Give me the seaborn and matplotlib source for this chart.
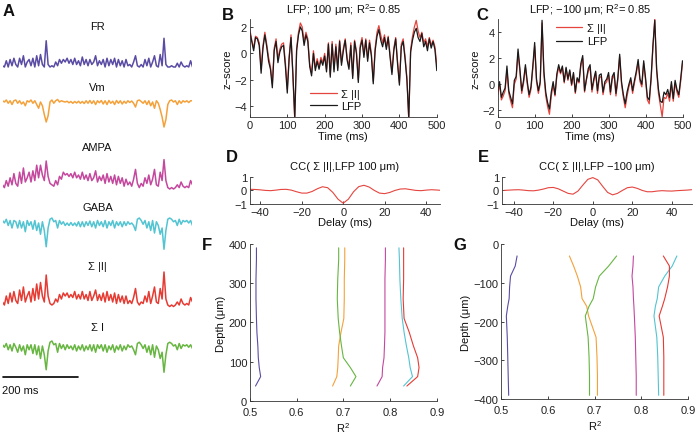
import numpy as np
import seaborn as sns
import matplotlib.pyplot as plt

# ---- panel A traces (5 ms sampling, 0-500 ms) ----
t_ms = np.arange(0, 501, 5)

fr = [0.05, 0.0, 0.25, 0.0, 0.3, 0.05, 0.35, 0.1, 0.0, 0.35,
      0.1, 0.45, 0.0, 0.2, 0.3, 0.05, 0.35, 0.0, 0.45, 0.05,
      0.5, 0.1, 0.0, 1.05, 0.1, 0.0, 0.05, 0.0, 0.2, 0.05,
      0.3, 0.15, 0.3, 0.2, 0.35, 0.15, 0.3, 0.1, 0.35, 0.1,
      0.25, 0.05, 0.4, 0.1, 0.3, 0.05, 0.3, 0.1, 0.2, 0.45,
      0.05, 0.25, 0.1, 0.3, 0.0, 0.35, 0.05, 0.3, 0.1, 0.35,
      0.0, 0.3, 0.05, 0.25, 0.0, 0.3, 0.05, 0.1, 0.0, 0.2,
      0.45, 0.05, 0.0, 0.1, 0.0, 0.3, 0.05, 0.35, 0.0, 0.2,
      0.45, 0.05, 0.0, 0.5, 0.05, 1.15, 0.1, 0.0, 0.0, 0.05,
      0.0, 0.0, 0.15, 0.0, 0.2, 0.05, 0.0, 0.05, 0.0, 0.25,
      0.0]
vm = [0.05, 0.0, 0.08, -0.05, 0.05, -0.1, 0.05, 0.08, -0.05, 0.05,
      -0.08, 0.0, -0.15, 0.05, 0.0, 0.08, -0.05, 0.05, -0.1, -0.25,
      0.0, -0.15, -0.5, -0.8, -0.55, 0.0, 0.08, -0.05, 0.05, 0.1,
      0.0, 0.05, 0.02, 0.0, 0.03, -0.03, 0.02, -0.05, 0.02, -0.04,
      0.03, -0.05, 0.02, -0.06, 0.05, -0.05, 0.06, -0.06, 0.05, -0.1,
      0.05, -0.03, 0.06, -0.08, 0.05, -0.1, 0.06, -0.05, 0.03, -0.1,
      0.06, -0.05, 0.05, -0.08, 0.03, -0.05, 0.05, -0.02, 0.04, -0.05,
      -0.2, 0.05, 0.08, 0.02, -0.05, 0.05, -0.1, 0.05, -0.15, 0.0,
      -0.25, 0.05, -0.05, -0.3, -0.6, -1.0, -0.7, -0.1, 0.05, 0.08,
      0.0, 0.05, -0.1, 0.05, -0.05, 0.05, 0.0, 0.05, -0.02, 0.05,
      0.05]
ampa = [0.15, 0.05, 0.3, 0.1, 0.4, 0.15, 0.55, 0.2, 0.1, 0.6,
        0.2, 0.75, 0.25, 0.4, 0.6, 0.25, 0.65, 0.3, 0.85, 0.4,
        0.85, 0.5, 0.3, 1.0, 0.45, 0.2, 0.15, 0.1, 0.3, 0.15,
        0.45, 0.35, 0.6, 0.5, 0.55, 0.45, 0.55, 0.4, 0.6, 0.4,
        0.5, 0.35, 0.6, 0.35, 0.5, 0.3, 0.55, 0.3, 0.4, 0.65,
        0.25, 0.45, 0.3, 0.5, 0.2, 0.55, 0.25, 0.45, 0.2, 0.5,
        0.15, 0.45, 0.2, 0.4, 0.1, 0.35, 0.15, 0.25, 0.1, 0.35,
        0.7, 0.2, 0.05, 0.2, 0.1, 0.4, 0.2, 0.5, 0.15, 0.35,
        0.7, 0.15, 0.1, 0.6, 0.3, 1.05, 0.3, 0.05, 0.0, 0.05,
        0.0, 0.05, 0.15, 0.05, 0.25, 0.1, 0.05, 0.1, 0.05, 0.3,
        0.15]
gaba = [0.1, 0.0, 0.15, -0.1, 0.1, -0.2, 0.1, 0.05, -0.2, 0.1,
        -0.2, 0.05, -0.35, 0.1, -0.1, 0.05, -0.25, 0.1, -0.3, 0.0,
        -0.45, 0.05, -0.3, -0.95, -0.2, 0.15, 0.2, 0.05, 0.1, -0.2,
        0.1, -0.05, 0.05, -0.1, 0.0, -0.1, 0.02, -0.1, 0.0, -0.12,
        0.05, -0.15, 0.05, -0.15, 0.05, -0.1, 0.08, -0.15, 0.05, -0.2,
        0.1, -0.1, 0.05, -0.15, 0.1, -0.2, 0.05, -0.1, 0.1, -0.2,
        0.05, -0.1, 0.05, -0.15, 0.05, -0.1, 0.05, -0.05, 0.0, -0.1,
        -0.3, 0.15, 0.2, 0.1, -0.05, 0.1, -0.2, 0.05, -0.3, 0.1,
        -0.4, 0.05, -0.1, -0.45, -0.2, -1.05, -0.3, 0.15, 0.2, 0.15,
        0.05, 0.1, -0.1, 0.15, -0.05, 0.1, 0.05, 0.1, 0.0, 0.1,
        -0.1]
sum_abs_i = [0.1, 0.0, 0.3, 0.05, 0.4, 0.1, 0.45, 0.15, 0.05, 0.5,
             0.15, 0.6, 0.1, 0.3, 0.45, 0.1, 0.55, 0.15, 0.7, 0.2,
             0.75, 0.3, 0.1, 1.0, 0.3, 0.05, 0.0, 0.05, 0.2, 0.1,
             0.35, 0.2, 0.4, 0.3, 0.4, 0.25, 0.35, 0.25, 0.45, 0.2,
             0.35, 0.2, 0.45, 0.2, 0.35, 0.15, 0.45, 0.15, 0.3, 0.5,
             0.15, 0.35, 0.15, 0.4, 0.1, 0.45, 0.15, 0.35, 0.1, 0.4,
             0.05, 0.35, 0.1, 0.3, 0.05, 0.3, 0.05, 0.15, 0.05, 0.25,
             0.55, 0.1, 0.0, 0.1, 0.05, 0.3, 0.1, 0.45, 0.05, 0.3,
             0.6, 0.1, 0.05, 0.55, 0.2, 1.1, 0.2, 0.0, -0.05, 0.0,
             -0.05, 0.0, 0.1, 0.0, 0.2, 0.05, 0.0, 0.05, 0.0, 0.25,
             0.1]
sum_i = [0.05, -0.05, 0.1, -0.15, 0.05, -0.2, 0.1, -0.05, -0.25, 0.05,
         -0.2, 0.0, -0.35, 0.05, -0.15, 0.05, -0.3, 0.05, -0.35, 0.0,
         -0.5, 0.0, -0.35, -0.95, -0.2, 0.15, 0.2, 0.05, 0.1, -0.25,
         0.1, -0.1, 0.05, -0.15, 0.05, -0.1, 0.0, -0.15, 0.05, -0.2,
         0.0, -0.15, 0.05, -0.2, 0.0, -0.15, 0.05, -0.2, 0.05, -0.25,
         0.05, -0.1, 0.05, -0.2, 0.05, -0.25, 0.0, -0.15, 0.05, -0.25,
         0.0, -0.15, 0.05, -0.2, 0.0, -0.15, 0.05, -0.05, 0.0, -0.15,
         -0.35, 0.1, 0.15, 0.05, -0.1, 0.05, -0.25, 0.0, -0.35, 0.05,
         -0.45, 0.0, -0.15, -0.5, -0.25, -1.05, -0.35, 0.1, 0.15, 0.1,
         0.0, 0.05, -0.15, 0.1, -0.1, 0.05, 0.0, 0.05, -0.05, 0.05,
         -0.1]

# ---- panels B / C (z-scores) ----
lfp_b = [1.6, 0.9, 0.2, 1.2, 1.1, 0.6, -1.5, 0.4, 1.4, 0.5,
         -0.6, -1.2, -2.6, 0.2, 0.9, -0.7, 0.1, 0.5, 0.6, -1.0,
         -3.0, -0.4, 1.2, -1.5, -4.9, 0.2, 1.4, 2.0, 1.7, 0.6,
         1.4, 0.9, -1.0, -1.7, 0.0, -1.3, -0.6, -1.2, -0.5, -0.9,
         -0.2, -1.4, 0.7, -1.8, 0.7, -1.4, 0.5, -1.3, 0.9, -0.9,
         0.2, 1.0, -0.5, -1.2, 0.6, -1.9, 0.9, 0.0, -2.2, 0.4,
         1.0, -0.3, 1.0, -0.6, 0.8, -0.2, -2.3, 0.2, 1.3, 1.8,
         1.0, 0.5, 1.2, 0.3, 1.2, -0.3, -1.6, 0.2, 1.1, -0.8,
         -2.4, 0.5, 0.9, -0.4, -2.0, -4.9, 0.1, 1.0, 1.6, 1.9,
         1.2, 0.9, 1.5, 0.5, 0.9, 0.2, 1.1, 0.4, 0.9, 0.3,
         -1.3]
sumi_b = [1.8, 1.0, 0.4, 1.3, 1.2, 0.8, -1.2, 0.6, 1.6, 0.7,
          -0.3, -1.0, -2.3, 0.4, 1.1, -0.4, 0.3, 0.7, 0.8, -0.7,
          -2.7, -0.2, 1.4, -1.8, -5.0, 0.4, 1.6, 2.3, 2.0, 0.9,
          1.6, 1.1, -0.8, -1.5, 0.2, -1.1, -0.4, -1.0, -0.3, -0.7,
          0.0, -1.2, 0.8, -1.6, 0.9, -1.2, 0.7, -1.1, 1.0, -0.7,
          0.4, 1.1, -0.3, -1.0, 0.8, -1.7, 1.0, 0.2, -2.0, 0.6,
          1.2, -0.1, 1.1, -0.4, 1.0, 0.0, -2.1, 0.4, 1.6, 2.1,
          1.4, 0.8, 1.4, 0.5, 1.3, -0.1, -1.4, 0.4, 1.2, -0.6,
          -2.2, 0.7, 1.1, -0.2, -1.8, -5.0, 0.3, 1.3, 2.0, 2.5,
          1.7, 1.2, 1.6, 0.8, 1.1, 0.5, 1.2, 0.6, 1.0, 0.5,
          -0.9]
lfp_c = [-0.5, 0.2, -1.0, -0.6, -0.3, 1.4, -0.5, -1.0, -1.5, 0.3,
         0.6, 2.7, 1.2, -0.5, 0.3, 1.5, 0.2, -0.8, -0.2, 1.4,
         3.2, 0.4, -0.5, 0.2, 4.9, 1.0, -0.6, -1.4, -1.9, -0.6,
         0.2, -0.8, 0.8, 1.5, 0.9, 1.4, 0.2, 1.3, 0.4, 1.1,
         0.0, 0.9, -0.6, 0.5, 0.2, 1.6, 2.2, -0.5, 0.4, 1.2,
         1.5, -0.4, 0.4, 1.0, -0.5, 0.7, 0.8, -0.6, 0.2, 0.4,
         0.9, -0.6, 0.6, 0.9, -0.7, 0.5, 2.3, 0.2, -0.8, -1.5,
         -0.6, 0.0, 0.5, -0.5, 0.3, 1.0, 1.9, 0.4, 0.0, 1.8,
         0.5, -1.0, -1.2, 0.5, 3.0, 4.9, 1.2, -0.4, -1.3, -1.4,
         -0.6, -0.8, -0.4, -1.0, 0.2, -1.1, 0.3, -0.4, -0.8, 0.4,
         1.8]
sumi_c = [-0.8, 0.0, -1.2, -0.9, -0.5, 1.1, -0.7, -1.3, -1.8, 0.0,
          0.4, 2.4, 1.0, -0.7, 0.1, 1.3, 0.0, -1.0, -0.4, 1.2,
          2.9, 0.2, -0.7, 0.0, 4.7, 0.7, -0.9, -1.7, -2.3, -0.9,
          0.0, -0.9, 0.6, 1.3, 0.8, 1.3, 0.1, 1.2, 0.3, 1.0,
          -0.1, 0.8, -0.7, 0.4, 0.1, 1.4, 2.0, -0.6, 0.3, 1.0,
          1.3, -0.6, 0.2, 0.9, -0.7, 0.5, 0.6, -0.8, 0.0, 0.2,
          0.7, -0.8, 0.4, 0.7, -0.9, 0.3, 2.1, 0.0, -1.0, -1.8,
          -0.9, -0.2, 0.3, -0.7, 0.1, 0.8, 1.7, 0.2, -0.2, 1.6,
          0.3, -1.2, -1.5, 0.3, 2.8, 5.0, 1.0, -0.7, -1.6, -2.5,
          -1.0, -1.1, -0.7, -1.3, 0.0, -1.3, 0.1, -0.6, -1.0, 0.2,
          1.6]

# ---- panels D / E (cross-correlation) ----
delay_d = np.arange(-45, 47.6, 2.5)
cc_d = [0.08, 0.07, 0.04, 0.0, -0.02, 0.02, 0.07, 0.08, 0.02, -0.1,
        -0.2, -0.2, -0.08, 0.12, 0.27, 0.2, -0.15, -0.65, -0.95, -0.65,
        -0.1, 0.28, 0.38, 0.25, 0.0, -0.2, -0.24, -0.15, 0.0, 0.1,
        0.12, 0.06, 0.0, -0.02, 0.02, 0.05, 0.03, 0.0]
delay_e = np.arange(-45, 50.1, 2.5)
cc_e = [0.0, 0.02, 0.04, 0.05, 0.02, -0.02, -0.03, 0.02, 0.1, 0.2,
        0.22, 0.12, -0.05, -0.22, -0.28, -0.05, 0.4, 0.82, 0.95, 0.78,
        0.3, -0.15, -0.33, -0.22, 0.0, 0.2, 0.25, 0.15, 0.0, -0.1,
        -0.1, -0.05, -0.02, -0.04, -0.05, -0.02, 0.0, 0.02, 0.05]

# ---- panels F / G (R^2 vs depth) ----
depth_f = [38, 62, 85, 110, 140, 175, 210, 260, 310, 360, 390]
r2_f = {
    'FR':   [0.512, 0.523, 0.520, 0.518, 0.517, 0.515, 0.514, 0.513, 0.513, 0.514, 0.514],
    'Vm':   [0.677, 0.686, 0.688, 0.689, 0.690, 0.695, 0.701, 0.702, 0.702, 0.703, 0.703],
    'SumI': [0.715, 0.727, 0.715, 0.700, 0.696, 0.692, 0.689, 0.687, 0.688, 0.690, 0.690],
    'AMPA': [0.772, 0.783, 0.784, 0.787, 0.788, 0.789, 0.789, 0.789, 0.789, 0.790, 0.790],
    'GABA': [0.829, 0.848, 0.843, 0.840, 0.835, 0.830, 0.826, 0.823, 0.821, 0.820, 0.819],
    'SumAbsI': [0.836, 0.859, 0.862, 0.859, 0.850, 0.841, 0.830, 0.828, 0.829, 0.829, 0.829],
}
depth_g = [-30, -56, -82, -110, -140, -160, -185, -240, -290, -340, -390]
r2_g = {
    'FR':   [0.534, 0.530, 0.520, 0.518, 0.517, 0.514, 0.511, 0.513, 0.514, 0.515, 0.516],
    'Vm':   [0.646, 0.655, 0.663, 0.670, 0.673, 0.683, 0.687, 0.703, 0.705, 0.706, 0.706],
    'SumI': [0.747, 0.730, 0.710, 0.702, 0.697, 0.688, 0.680, 0.686, 0.688, 0.689, 0.689],
    'AMPA': [0.783, 0.782, 0.780, 0.782, 0.783, 0.784, 0.785, 0.787, 0.788, 0.789, 0.789],
    'GABA': [0.876, 0.866, 0.850, 0.837, 0.834, 0.830, 0.827, 0.833, 0.835, 0.836, 0.837],
    'SumAbsI': [0.847, 0.860, 0.860, 0.856, 0.850, 0.845, 0.838, 0.847, 0.848, 0.848, 0.848],
}

colors = {'FR': '#5a4ca4', 'Vm': '#f4a13a', 'AMPA': '#c4489e',
          'GABA': '#52c4d2', 'SumAbsI': '#e63b33', 'SumI': '#67b641'}

sns.set_style('ticks')
plt.rcParams['font.family'] = ['Liberation Sans', 'DejaVu Sans']
plt.rcParams.update({
    'mathtext.fontset': 'custom', 'mathtext.rm': 'Liberation Sans',
    'mathtext.it': 'Liberation Sans:italic',
    'font.size': 8, 'axes.labelsize': 8, 'axes.titlesize': 8,
    'xtick.labelsize': 8, 'ytick.labelsize': 8,
    'xtick.direction': 'in', 'ytick.direction': 'in',
    'xtick.major.size': 2.5, 'ytick.major.size': 2.5,
    'xtick.major.width': 0.6, 'ytick.major.width': 0.6,
    'xtick.major.pad': 2, 'ytick.major.pad': 2,
    'axes.linewidth': 0.6, 'axes.edgecolor': '#333333',
    'axes.labelpad': 1, 'axes.titlepad': 4,
    'text.color': '#111111', 'axes.labelcolor': '#111111',
    'xtick.color': '#222222', 'ytick.color': '#222222',
})

fig = plt.figure(figsize=(7, 4.35), dpi=100)

# A: stacked traces (y axis in figure pixels, top down)
ax_a = fig.add_axes([2.5 / 700, 0, 190 / 700, 1])
ax_a.set_xlim(0, 500)
ax_a.set_ylim(435, 0)
ax_a.axis('off')
traces = [('FR', fr, 'FR', 68, 25, 27), ('Vm', vm, 'Vm', 103, 25, 88),
          ('AMPA', ampa, 'AMPA', 190, 28, 148), ('GABA', gaba, 'GABA', 224, 25, 208),
          ('SumAbsI', sum_abs_i, 'Σ |I|', 306, 30, 267), ('SumI', sum_i, 'Σ I', 347, 25, 328)]
for key, vals, label, base, scale, label_y in traces:
    sns.lineplot(x=t_ms, y=base - scale * np.array(vals), ax=ax_a,
                 color=colors[key], lw=1.1, errorbar=None)
    ax_a.text(250, label_y, label, ha='center', va='center', fontsize=8)
ax_a.plot([0, 200], [378, 378], color='black', lw=1.2, clip_on=False)
ax_a.text(0, 391, '200 ms', ha='left', va='center', fontsize=8)

red = '#e5453f'

# B
ax_b = fig.add_axes([0.357, 0.729, 0.267, 0.225])
sns.lineplot(x=t_ms, y=sumi_b, ax=ax_b, color=red, lw=0.9, label='Σ |I|', errorbar=None)
sns.lineplot(x=t_ms, y=lfp_b, ax=ax_b, color='#1a1a1a', lw=0.9, label='LFP', errorbar=None)
ax_b.set_xlim(0, 500)
ax_b.set_ylim(-4.8, 2.6)
ax_b.set_xticks([0, 100, 200, 300, 400, 500])
ax_b.set_yticks([-4, -2, 0, 2])
ax_b.set_xlabel('Time (ms)')
ax_b.set_ylabel('z\u2212score')
ax_b.set_title('LFP; 100 μm; R$^{2}$= 0.85')
ax_b.legend(frameon=False, loc='lower left', bbox_to_anchor=(0.27, -0.04),
            handlelength=2.4, handletextpad=0.4, labelspacing=0.2, fontsize=8)

# C
ax_c = fig.add_axes([0.711, 0.729, 0.264, 0.225])
sns.lineplot(x=t_ms, y=sumi_c, ax=ax_c, color=red, lw=0.9, label='Σ |I|', errorbar=None)
sns.lineplot(x=t_ms, y=lfp_c, ax=ax_c, color='#1a1a1a', lw=0.9, label='LFP', errorbar=None)
ax_c.set_xlim(0, 500)
ax_c.set_ylim(-2.5, 5)
ax_c.set_xticks([0, 100, 200, 300, 400, 500])
ax_c.set_yticks([-2, 0, 2, 4])
ax_c.set_xlabel('Time (ms)')
ax_c.set_ylabel('z\u2212score')
ax_c.set_title('LFP; \u2212100 μm; R$^{2}$= 0.85')
ax_c.legend(frameon=False, loc='upper left', bbox_to_anchor=(0.26, 1.06),
            handlelength=2.4, handletextpad=0.4, labelspacing=0.3, fontsize=8)

# D / E
for rect, delay, cc, xlim, title in [
        ([0.357, 0.529, 0.271, 0.062], delay_d, cc_d, (-45, 46.5), 'CC( Σ |I|,LFP 100 μm)'),
        ([0.717, 0.529, 0.271, 0.062], delay_e, cc_e, (-46, 50), 'CC( Σ |I|,LFP \u2212100 μm)')]:
    ax = fig.add_axes(rect)
    sns.lineplot(x=delay, y=cc, ax=ax, color=red, lw=0.8, errorbar=None)
    ax.set_xlim(*xlim)
    ax.set_ylim(-1, 1)
    ax.set_xticks([-40, -20, 0, 20, 40])
    ax.set_yticks([-1, 0, 1])
    ax.set_xlabel('Delay (ms)', labelpad=0)
    ax.set_title(title, pad=6)

# F / G
order = ['FR', 'Vm', 'SumI', 'AMPA', 'GABA', 'SumAbsI']
for rect, depth, r2, ylim, yticks in [
        ([0.357, 0.076, 0.267, 0.361], depth_f, r2_f, (0, 400), [0, 100, 200, 300, 400]),
        ([0.716, 0.080, 0.267, 0.356], depth_g, r2_g, (-400, 0), [-400, -300, -200, -100, 0])]:
    ax = fig.add_axes(rect)
    for key in order:
        sns.lineplot(x=r2[key], y=depth, ax=ax, color=colors[key], lw=0.8,
                     sort=False, orient='y', errorbar=None)
    ax.set_xlim(0.5, 0.9)
    ax.set_ylim(*ylim)
    ax.set_xticks([0.5, 0.6, 0.7, 0.8, 0.9])
    ax.set_yticks(yticks)
    ax.tick_params(axis='x', pad=4.5)
    ax.set_xlabel('R$^{2}$', labelpad=2)
    ax.set_ylabel('Depth (μm)', labelpad=2)

sns.despine(fig=fig)

# panel letters
for letter, x, y in [('A', 9, 12), ('B', 228, 15), ('C', 482, 15), ('D', 232, 158),
                     ('E', 483, 158), ('F', 207, 246), ('G', 460, 246)]:
    fig.text(x / 700, 1 - y / 435, letter, fontsize=12, fontweight='bold',
             ha='center', va='center')

fig.savefig('out.png', dpi=100)
